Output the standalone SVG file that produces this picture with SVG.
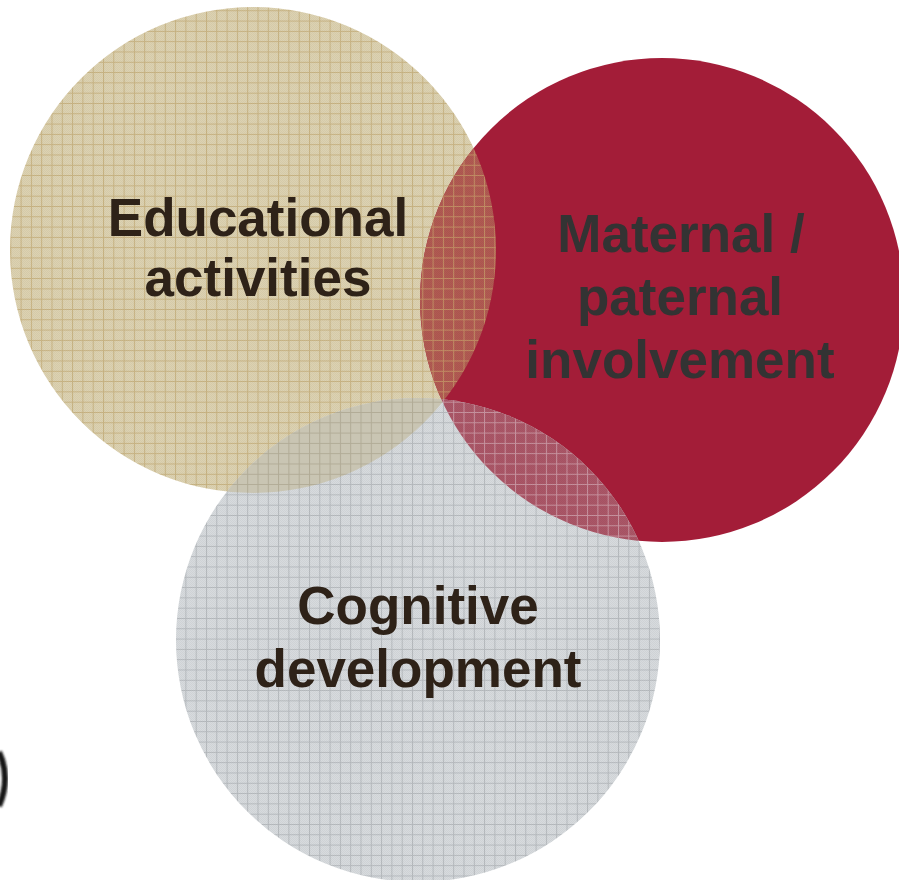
<svg xmlns="http://www.w3.org/2000/svg" width="899" height="880" viewBox="0 0 899 880">
  <defs>
    <!-- graph-paper fills -->
    <pattern id="gridTan" patternUnits="userSpaceOnUse" width="10.3" height="10.3">
      <rect width="10.3" height="10.3" fill="#ddd2b1"/>
      <path d="M0 0.5H10.3M0.5 0V10.3" stroke="#c9b483" stroke-width="1"/>
    </pattern>
    <pattern id="gridGray" patternUnits="userSpaceOnUse" width="10.3" height="10.3">
      <rect width="10.3" height="10.3" fill="#d7dbde"/>
      <path d="M0 0.5H10.3M0.5 0V10.3" stroke="#b7bbbf" stroke-width="1"/>
    </pattern>
    <pattern id="gridRedTan" patternUnits="userSpaceOnUse" width="10.3" height="10.3">
      <rect width="10.3" height="10.3" fill="#b15a52"/>
      <path d="M0 0.5H10.3M0.5 0V10.3" stroke="#c38f65" stroke-width="1"/>
    </pattern>
    <pattern id="gridRedGray" patternUnits="userSpaceOnUse" width="10.3" height="10.3">
      <rect width="10.3" height="10.3" fill="#ab5667"/>
      <path d="M0 0.5H10.3M0.5 0V10.3" stroke="#c995a1" stroke-width="1"/>
    </pattern>
    <pattern id="gridTanGray" patternUnits="userSpaceOnUse" width="10.3" height="10.3">
      <rect width="10.3" height="10.3" fill="#c9c5b3"/>
      <path d="M0 0.5H10.3M0.5 0V10.3" stroke="#b1ab96" stroke-width="1"/>
    </pattern>
    <!-- fine paper dither -->
    <pattern id="dither" patternUnits="userSpaceOnUse" width="2" height="2">
      <rect width="1" height="1" fill="#000" fill-opacity="0.04"/>
      <rect x="1" y="1" width="1" height="1" fill="#000" fill-opacity="0.04"/>
    </pattern>
    <clipPath id="clipRed"><circle cx="662" cy="300" r="242"/></clipPath>
    <clipPath id="clipGray"><circle cx="418" cy="640" r="242"/></clipPath>
    <filter id="soft" x="-50%" y="-50%" width="200%" height="200%">
      <feGaussianBlur stdDeviation="1"/>
    </filter>
  </defs>
  <style>
    .label { font-family: "Liberation Sans", Arial, sans-serif; font-weight: bold; font-size: 53px; text-anchor: middle; }
    .dark { fill: #2e2218; }
    .grey { fill: #333333; }
  </style>

  <rect width="899" height="880" fill="#ffffff"/>

  <g id="node-educational">
    <circle cx="253" cy="250" r="243" fill="url(#gridTan)"/>
    <circle cx="253" cy="250" r="243" fill="url(#dither)"/>
  </g>

  <g id="node-involvement">
    <circle cx="662" cy="300" r="242" fill="#a31d38"/>
  </g>

  <g id="node-cognitive">
    <circle cx="418" cy="640" r="242" fill="url(#gridGray)"/>
    <circle cx="418" cy="640" r="242" fill="url(#dither)"/>
  </g>

  <!-- overlap lenses -->
  <g id="overlaps">
    <g clip-path="url(#clipRed)">
      <circle cx="253" cy="250" r="243" fill="url(#gridRedTan)"/>
      <circle cx="253" cy="250" r="243" fill="url(#dither)"/>
    </g>
    <g clip-path="url(#clipGray)">
      <circle cx="253" cy="250" r="243" fill="url(#gridTanGray)"/>
      <circle cx="662" cy="300" r="242" fill="url(#gridRedGray)"/>
      <circle cx="662" cy="300" r="242" fill="url(#dither)"/>
    </g>
  </g>

  <g id="labels">
    <text class="label dark" x="258" y="236">Educational</text>
    <text class="label dark" x="258" y="296">activities</text>
    <text class="label grey" x="681" y="252">Maternal /</text>
    <text class="label grey" x="680" y="315">paternal</text>
    <text class="label grey" x="680" y="378">involvement</text>
    <text class="label dark" x="418" y="624">Cognitive</text>
    <text class="label dark" x="418" y="687">development</text>
  </g>

  <!-- cropped dark arc at the left border -->
  <path d="M-1 752 Q11 778 -1 806" fill="none" stroke="#161616" stroke-width="6" filter="url(#soft)"/>
</svg>
